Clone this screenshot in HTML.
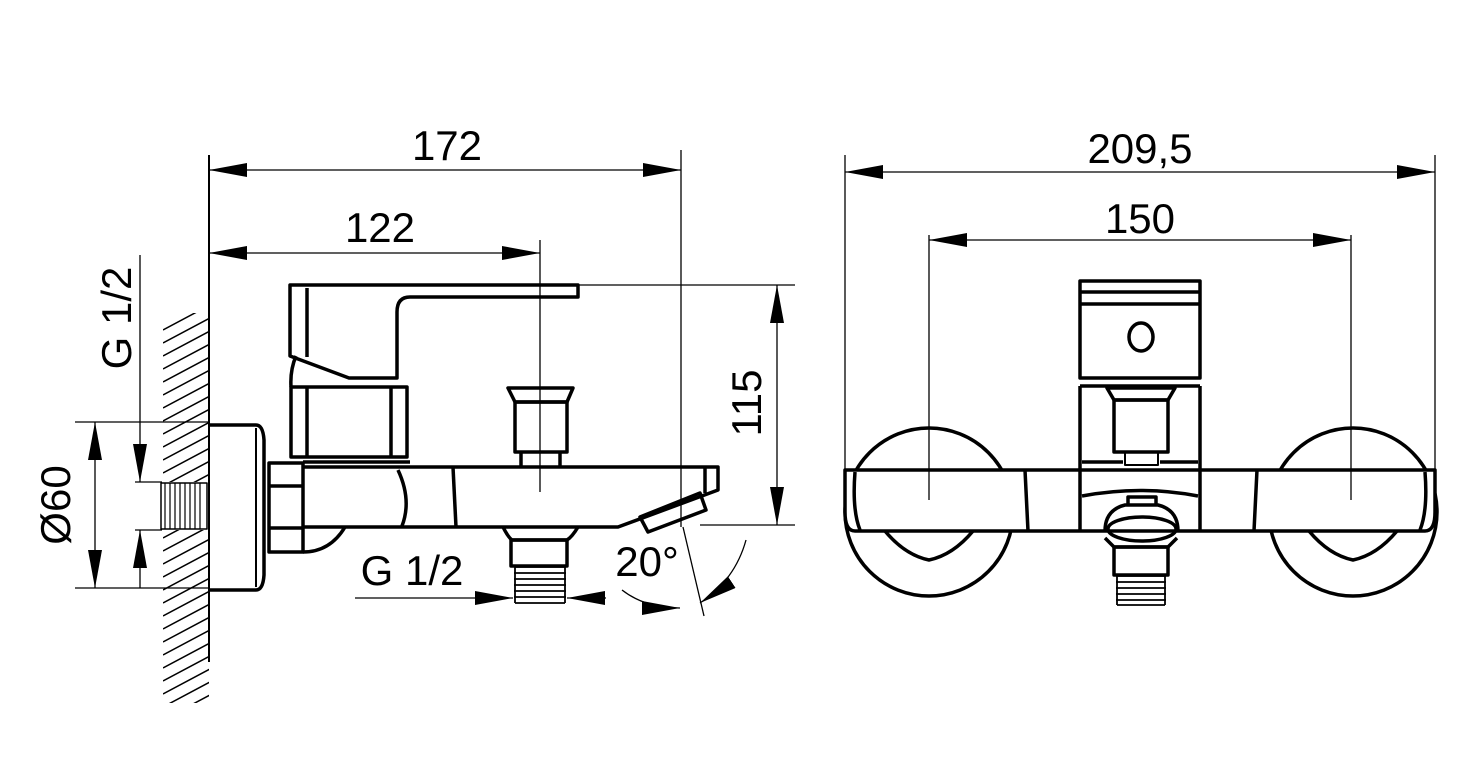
<!DOCTYPE html>
<html><head><meta charset="utf-8"><style>
html,body{margin:0;padding:0;background:#fff}
svg{display:block}
text{font-family:"Liberation Sans Narrow","Liberation Sans",sans-serif;font-size:42px;fill:#000}
</style></head><body>
<svg width="1464" height="763" viewBox="0 0 1464 763" xmlns="http://www.w3.org/2000/svg">
<defs>
<marker id="a" markerUnits="userSpaceOnUse" markerWidth="40" markerHeight="16" refX="38" refY="7" orient="auto-start-reverse">
<path d="M0,0 L38,7 L0,14 Z" fill="#000"/></marker>
<clipPath id="hc"><rect x="163" y="313" width="46" height="390"/></clipPath>
</defs>
<g stroke="#000" fill="none">
<g clip-path="url(#hc)" stroke-width="1.5">
<path d="M163,330 l60,-32 M163,343 l60,-32 M163,356 l60,-32 M163,369 l60,-32 M163,382 l60,-32 M163,395 l60,-32 M163,408 l60,-32 M163,421 l60,-32 M163,434 l60,-32 M163,447 l60,-32 M163,460 l60,-32 M163,473 l60,-32 M163,486 l60,-32 M163,499 l60,-32 M163,512 l60,-32 M163,525 l60,-32 M163,538 l60,-32 M163,551 l60,-32 M163,564 l60,-32 M163,577 l60,-32 M163,590 l60,-32 M163,603 l60,-32 M163,616 l60,-32 M163,629 l60,-32 M163,642 l60,-32 M163,655 l60,-32 M163,668 l60,-32 M163,681 l60,-32 M163,694 l60,-32 M163,707 l60,-32 M163,720 l60,-32 M163,733 l60,-32"/>
</g>
<rect x="160" y="482" width="48" height="48" fill="#fff" stroke="none"/>
<g stroke-width="1.3">
<line x1="209" y1="155" x2="209" y2="662" stroke-width="2"/>
<line x1="681" y1="150" x2="681" y2="527"/>
<line x1="540" y1="240" x2="540" y2="492"/>
<line x1="209" y1="170" x2="681" y2="170" marker-start="url(#a)" marker-end="url(#a)"/>
<line x1="209" y1="253" x2="540" y2="253" marker-start="url(#a)" marker-end="url(#a)"/>
<line x1="140" y1="255" x2="140" y2="482" marker-end="url(#a)"/>
<line x1="140" y1="588" x2="140" y2="530" marker-end="url(#a)"/>
<line x1="75" y1="422" x2="209" y2="422"/>
<line x1="75" y1="588" x2="209" y2="588"/>
<line x1="135" y1="482" x2="162" y2="482"/>
<line x1="135" y1="530" x2="162" y2="530"/>
<line x1="95" y1="422" x2="95" y2="588" marker-start="url(#a)" marker-end="url(#a)"/>
<line x1="578" y1="285" x2="795" y2="285"/>
<line x1="700" y1="525" x2="795" y2="525"/>
<line x1="777" y1="285" x2="777" y2="525" marker-start="url(#a)" marker-end="url(#a)"/>
<line x1="355" y1="598" x2="513" y2="598" marker-end="url(#a)"/>
<line x1="606" y1="598" x2="567" y2="598" marker-end="url(#a)"/>
<line x1="683" y1="527" x2="704" y2="616"/>
<path d="M622,590 Q645,608 680,608" marker-end="url(#a)"/>
<path d="M746,540 Q735,580 700,603" marker-end="url(#a)"/>
</g>
<g stroke-width="3.5" stroke-linejoin="round">
<path d="M209,425 H256 Q263,425 264,440 V575 Q263,590 256,590 H209"/>
<line x1="256" y1="428" x2="256" y2="587" stroke-width="2"/>
<rect x="161" y="483" width="46" height="46" stroke-width="1.5"/>
<path d="M165,483 v46 M170,483 v46 M175,483 v46 M180,483 v46 M185,483 v46 M190,483 v46 M195,483 v46 M200,483 v46" stroke-width="1.2"/>
<path d="M269,463 H303 V552 H269 Z"/>
<path d="M269,486 H303 M269,528 H303"/>
<path d="M290,285 H578 V297 H410 Q397,297 397,312 V378 H349 L290,356 Z"/>
<path d="M307,288 V357"/>
<path d="M296,356 Q290,370 291,387"/>
<rect x="291" y="387" width="116" height="70"/>
<path d="M307,388 V457 M391,388 V457"/>
<path d="M303,462 H410 M303,467 H718 V490 L618,527 H303"/>
<path d="M303,552 Q330,552 345,527"/>
<path d="M398,470 Q412,500 402,526"/>
<path d="M453,467 L456,527"/>
<path d="M705,467 V493"/>
<path d="M640,517 L700,493 L706,510 L648,532 Z"/>
<path d="M508,388 H573 L567,402 H515 Z"/>
<rect x="515" y="402" width="52" height="50"/>
<path d="M521,452 V467 M560,452 V467"/>
<path d="M503,527 Q508,537 512,540 H567 Q572,537 578,527"/>
<rect x="511" y="540" width="56" height="26"/>
<path d="M515,567 H565 M514,573 H566 M514,579 H566 M514,585 H566 M514,591 H566 M514,597 H566 M515,603 H565 M515,567 V603 M565,567 V603" stroke-width="1.8"/>
</g>
<g stroke-width="1.3">
<line x1="845" y1="155" x2="845" y2="470"/>
<line x1="1435" y1="155" x2="1435" y2="470"/>
<line x1="845" y1="172" x2="1435" y2="172" marker-start="url(#a)" marker-end="url(#a)"/>
<line x1="929" y1="235" x2="929" y2="500"/>
<line x1="1351" y1="235" x2="1351" y2="500"/>
<line x1="929" y1="240" x2="1351" y2="240" marker-start="url(#a)" marker-end="url(#a)"/>
</g>
<g stroke-width="3.5" stroke-linejoin="round">
<circle cx="929" cy="512" r="84"/>
<circle cx="1353" cy="512" r="84"/>
<path d="M845,470 H1435 V512 Q1435,531 1425,531 H855 Q845,531 845,512 Z" fill="#fff"/>
<line x1="929" y1="470" x2="929" y2="500" stroke-width="1.3"/>
<line x1="1351" y1="470" x2="1351" y2="500" stroke-width="1.3"/>
<path d="M855,472 Q852,510 860,530 M1425,472 Q1428,510 1420,530"/>
<path d="M885,531 Q905,555 929,560 Q953,555 973,531"/>
<path d="M1309,531 Q1329,555 1353,560 Q1377,555 1397,531"/>
<path d="M1025,470 L1028,531 M1257,470 L1254,531"/>
<rect x="1080" y="281" width="120" height="97"/>
<path d="M1080,292 H1200 M1080,304 H1200"/>
<ellipse cx="1141" cy="337" rx="12" ry="14"/>
<path d="M1080,386 V470 M1200,386 V470 M1080,386 H1200"/>
<path d="M1107,388 H1175 L1168,400 H1114 Z"/>
<rect x="1114" y="400" width="54" height="52"/>
<rect x="1125" y="452" width="33" height="13" stroke-width="2"/>
<path d="M1082,462 H1123 M1160,462 H1198"/>
<path d="M1080,470 V531 M1200,470 V531"/>
<path d="M1082,496 Q1141,485 1198,496"/>
<path d="M1105,531 Q1105,510 1125,505 H1158 Q1178,510 1178,531"/>
<ellipse cx="1142" cy="529" rx="34" ry="12"/>
<path d="M1128,505 V497 H1156 V505"/>
<path d="M1105,538 L1114,547 H1168 L1177,538"/>
<rect x="1114" y="547" width="54" height="28"/>
<path d="M1117,576 H1165 M1116,582 H1166 M1116,588 H1166 M1116,594 H1166 M1116,600 H1166 M1117,605 H1165 M1117,576 V605 M1165,576 V605" stroke-width="1.8"/>
</g>
</g>
<text x="447" y="160" text-anchor="middle">172</text>
<text x="380" y="242" text-anchor="middle">122</text>
<text x="1140" y="163" text-anchor="middle">209,5</text>
<text x="1140" y="233" text-anchor="middle">150</text>
<text x="412" y="585" text-anchor="middle">G 1/2</text>
<text x="647" y="576" text-anchor="middle">20°</text>
<text transform="translate(131,318) rotate(-90)" text-anchor="middle">G 1/2</text>
<text transform="translate(70,505) rotate(-90)" text-anchor="middle">Ø60</text>
<text transform="translate(761,403) rotate(-90)" text-anchor="middle">115</text>
</svg>
</body></html>
